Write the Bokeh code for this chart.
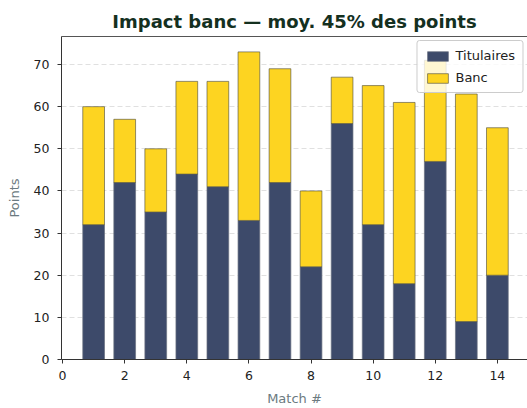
from bokeh.plotting import figure
from bokeh.models import Legend, LegendItem, Range1d, FixedTicker, LinearAxis
from bokeh.embed import file_html
from bokeh.resources import INLINE

matches = [1, 2, 3, 4, 5, 6, 7, 8, 9, 10, 11, 12, 13, 14]
titulaires = [32, 42, 35, 44, 41, 33, 42, 22, 56, 32, 18, 47, 9, 20]
banc = [28, 15, 15, 22, 25, 40, 27, 18, 11, 33, 43, 24, 54, 35]
x_ticks = [0, 2, 4, 6, 8, 10, 12, 14]
y_ticks = [0, 10, 20, 30, 40, 50, 60, 70]

totals = [t + b for t, b in zip(titulaires, banc)]

FONT = "DejaVu Sans"
p = figure(width=527, height=408, output_backend="svg", toolbar_location=None,
           x_range=Range1d(-0.035, 14.97), y_range=Range1d(0, 76.65),
           min_border_left=61, min_border_right=0, min_border_top=36,
           min_border_bottom=48)

p.title.text = "Impact banc \u2014 moy. 45% des points"
p.title.text_font = FONT
p.title.text_font_size = "18px"
p.title.text_font_style = "bold"
p.title.text_color = "#14301f"
p.title.align = "center"

NAVY = "#3d4a6a"
YELLOW = "#fdd421"
EDGE = "#4a4a3a"

r1 = p.vbar(x=matches, top=titulaires, bottom=0, width=0.7, fill_color=NAVY,
            line_color="#6a7080", line_alpha=0.7, line_width=1)
r2 = p.vbar(x=matches, top=totals, bottom=titulaires, width=0.7, fill_color=YELLOW,
            line_color=EDGE, line_alpha=0.6, line_width=1)

p.xgrid.grid_line_color = None
p.ygrid.grid_line_color = "#cccccc"
p.ygrid.grid_line_alpha = 0.6
p.ygrid.grid_line_dash = "5 3"
p.ygrid.ticker = FixedTicker(ticks=y_ticks)

p.xaxis.ticker = FixedTicker(ticks=x_ticks)
p.yaxis.ticker = FixedTicker(ticks=y_ticks)
for ax in (p.xaxis[0], p.yaxis[0]):
    ax.major_label_text_font = FONT
    ax.major_label_text_font_size = "12.5px"
    ax.major_label_text_color = "#222222"
    ax.axis_line_color = "#333333"
    ax.major_tick_line_color = "#333333"
    ax.major_tick_out = 4
    ax.major_tick_in = 0
    ax.minor_tick_line_color = None
    ax.axis_label_text_font = FONT
    ax.axis_label_text_font_size = "13px"
    ax.axis_label_text_font_style = "normal"
    ax.axis_label_text_color = "#6b7a80"
p.xaxis.axis_label = "Match #"
p.yaxis.axis_label = "Points"
p.xaxis.major_label_standoff = 7
p.yaxis.major_label_standoff = 8
p.xaxis.axis_label_standoff = 8
p.yaxis.axis_label_standoff = 9

# top spine only (the right edge of the frame is cut off in the reference)
p.outline_line_color = None
top_axis = LinearAxis(ticker=FixedTicker(ticks=[]), axis_line_color="#555555",
                      major_label_text_color=None, major_tick_line_color=None,
                      minor_tick_line_color=None)
p.add_layout(top_axis, "above")

legend = Legend(items=[LegendItem(label="Titulaires", renderers=[r1]),
                       LegendItem(label="Banc", renderers=[r2])],
                location="top_right")
legend.label_text_font = FONT
legend.label_text_font_size = "13px"
legend.label_text_color = "#222222"
legend.background_fill_alpha = 0.8
legend.border_line_color = "#cccccc"
legend.border_line_alpha = 1
legend.border_radius = 3
legend.glyph_width = 26
legend.glyph_height = 12
legend.label_height = 14
legend.spacing = 7
legend.padding = 7
legend.margin = 4
p.add_layout(legend)

open("out.html", "w").write(file_html(p, INLINE))
